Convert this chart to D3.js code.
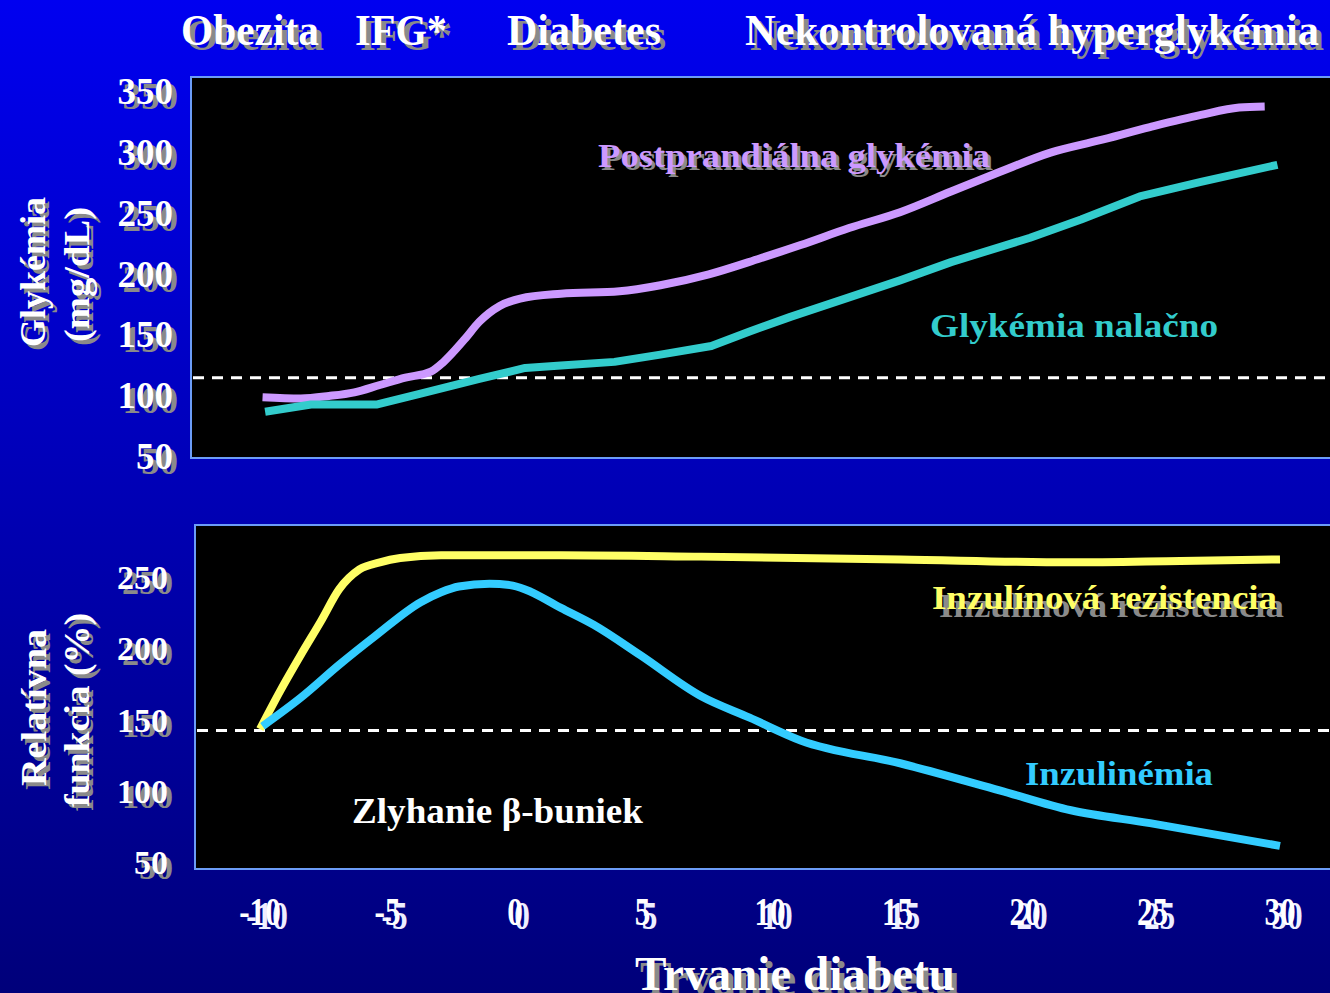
<!DOCTYPE html>
<html><head><meta charset="utf-8">
<script src="https://cdn.jsdelivr.net/npm/d3@7"></script>
<style>html,body{margin:0;padding:0;background:#000080;overflow:hidden}</style>
</head><body>
<svg id="c" width="1330" height="993"></svg>
<script>
// ---------- data ----------
const phaseLabels = ["Obezita", "IFG*", "Diabetes", "Nekontrolovaná hyperglykémia"];
const xTicks = [-10, -5, 0, 5, 10, 15, 20, 25, 30];
const glyTicks = [50, 100, 150, 200, 250, 300, 350];
const funcTicks = [50, 100, 150, 200, 250];

const postprandialT = [-9.9, -8.4, -7.3, -6.3, -5.3, -4.3, -3.3, -2.8, -2.0, -1.4, -0.6, 0.2, 1.8, 4.1, 5.7, 7.6, 9.6, 11.2, 13.1, 15.1, 17.1, 19.0, 21.0, 22.9, 24.9, 26.9, 28.4, 29.4];
const postprandialV = [100, 99, 101, 104, 110, 116, 121, 129, 147, 162, 175, 181, 185, 187, 192, 201, 214, 225, 239, 252, 269, 285, 301, 311, 322, 332, 338, 339];

const fastingT = [-9.8, -8.0, -5.4, -3.7, -1.4, 0.4, 1.8, 3.9, 5.7, 7.7, 9.2, 10.8, 13.1, 15.1, 17.1, 20.2, 22.2, 24.5, 26.9, 29.9];
const fastingV = [88, 94, 94, 103, 115, 124, 126, 129, 135, 142, 154, 166, 182, 196, 211, 231, 246, 265, 277, 291];

const resistanceT = [-10, -9.2, -8.4, -7.6, -6.9, -6.1, -5.3, -4.5, -2.9, -0.6, 1.8, 7.3, 15.1, 21.8, 26.1, 30];
const resistanceV = [144, 171, 196, 220, 242, 256, 261, 264, 266, 266, 266, 265, 263, 261, 262, 263];

const insulinT = [-9.9, -8.4, -6.9, -5.5, -3.7, -2.9, -2.2, -1.0, -0.2, 0.4, 1.8, 3.1, 4.9, 7.3, 9.2, 11.2, 15.1, 19.0, 21.8, 24.9, 30];
const insulinV = [146, 166, 189, 209, 233, 240, 244, 246, 245, 242, 229, 217, 196, 167, 152, 136, 120, 101, 87, 78, 62];

const glyThreshold = 116;
const funcThreshold = 143;

// ---------- setup ----------
const svg = d3.select("#c");
const FONT = '"Liberation Serif","Times New Roman",serif';
const defs = svg.append("defs");
const grad = defs.append("linearGradient").attr("id", "bg").attr("x1", 0).attr("y1", 0).attr("x2", 0).attr("y2", 1);
grad.append("stop").attr("offset", "0%").attr("stop-color", "#0000f0");
grad.append("stop").attr("offset", "100%").attr("stop-color", "#00007a");
svg.append("rect").attr("width", 1330).attr("height", 993).attr("fill", "url(#bg)");

function txt(x, y, str, o) {
  const draw = (dx, dy, col) => {
    const g = svg.append("g").attr("transform", `translate(${x + dx},${y + dy}) rotate(${o.rotate || 0}) scale(${o.sx || 1},1)`);
    const t = g.append("text").attr("x", 0).attr("y", 0)
      .attr("fill", col).attr("font-size", o.size).attr("font-family", FONT)
      .attr("font-weight", "bold").attr("text-anchor", o.anchor || "start").text(str);
    if (o.len) t.attr("textLength", o.len).attr("lengthAdjust", "spacingAndGlyphs");
  };
  if (o.shadow) draw(o.shadow[0], o.shadow[1], o.shadowColor || "#8a8a8a");
  draw(0, 0, o.fill || "#fff");
}

const x = d3.scaleLinear().domain([-10, 30]).range([260, 1280]);
const yTop = d3.scaleLinear().domain([50, 350]).range([458, 93]);
const yBot = d3.scaleLinear().domain([50, 250]).range([863, 578]);

// panels
svg.append("rect").attr("x", 191).attr("y", 77).attr("width", 1200).attr("height", 381)
  .attr("fill", "#000").attr("stroke", "#6b9cf7").attr("stroke-width", 2);
svg.append("rect").attr("x", 195).attr("y", 525).attr("width", 1200).attr("height", 344)
  .attr("fill", "#000").attr("stroke", "#6b9cf7").attr("stroke-width", 2);

// threshold dashed lines
svg.append("line").attr("x1", 193).attr("x2", 1330).attr("y1", yTop(glyThreshold)).attr("y2", yTop(glyThreshold))
  .attr("stroke", "#fff").attr("stroke-width", 3).attr("stroke-dasharray", "11,8");
svg.append("line").attr("x1", 197).attr("x2", 1330).attr("y1", yBot(funcThreshold)).attr("y2", yBot(funcThreshold))
  .attr("stroke", "#fff").attr("stroke-width", 3).attr("stroke-dasharray", "11,8");

function series(T, V, y, color, curve) {
  const pts = T.map((t, i) => [t, V[i]]);
  const line = d3.line().x(d => x(d[0])).y(d => y(d[1])).curve(curve);
  svg.append("path").datum(pts).attr("d", line).attr("fill", "none")
    .attr("stroke", color).attr("stroke-width", 8).attr("stroke-linejoin", "round").attr("stroke-linecap", "butt");
}
series(postprandialT, postprandialV, yTop, "#cc99ff", d3.curveMonotoneX);
series(fastingT, fastingV, yTop, "#33cccc", d3.curveLinear);
series(resistanceT, resistanceV, yBot, "#ffff66", d3.curveMonotoneX);
series(insulinT, insulinV, yBot, "#33ccff", d3.curveMonotoneX);

// header phase labels
const phaseX = [181, 355, 507, 745];
const phaseLen = [138, 92, 154, 574];
phaseLabels.forEach((s, i) => txt(phaseX[i], 45, s, { size: 44, len: phaseLen[i], shadow: [5, 5] }));

// y tick labels
glyTicks.forEach(v => txt(173, yTop(v) + 11, String(v), { size: 37, anchor: "end", shadow: [5, 5] }));
funcTicks.forEach(v => txt(168, yBot(v) + 11, String(v), { size: 34, anchor: "end", shadow: [5, 5] }));

// x tick labels (doubled white)
xTicks.forEach(v => {
  txt(x(v) + 7, 929, String(v), { size: 40, anchor: "middle", sx: 0.78, fill: "#eef" });
  txt(x(v), 925, String(v), { size: 40, anchor: "middle", sx: 0.78 });
});

// axis titles
txt(45, 272 + 75, "Glykémia", { size: 36, rotate: -90, len: 150, shadow: [4, 4] });
txt(89, 275 + 67, "(mg/dL)", { size: 36, rotate: -90, len: 135, shadow: [4, 4] });
txt(46, 708 + 78, "Relatívna", { size: 36, rotate: -90, len: 157, shadow: [4, 4] });
txt(89, 710 + 97, "funkcia (%)", { size: 36, rotate: -90, len: 194, shadow: [4, 4] });
txt(635, 990, "Trvanie diabetu", { size: 48, len: 320, shadow: [5, 5] });

// series labels
txt(598, 167, "Postprandiálna glykémia", { size: 34, len: 392, fill: "#cc99ff", shadow: [3, 3] });
txt(930, 337, "Glykémia nalačno", { size: 33, len: 288, fill: "#33cccc" });
txt(932, 609, "Inzulínová rezistencia", { size: 34, len: 345, fill: "#ffff66", shadow: [7, 8] });
txt(1025, 785, "Inzulinémia", { size: 34, len: 188, fill: "#33ccff" });
txt(352, 823, "Zlyhanie β-buniek", { size: 36, len: 291, fill: "#fff" });
</script>
</body></html>
